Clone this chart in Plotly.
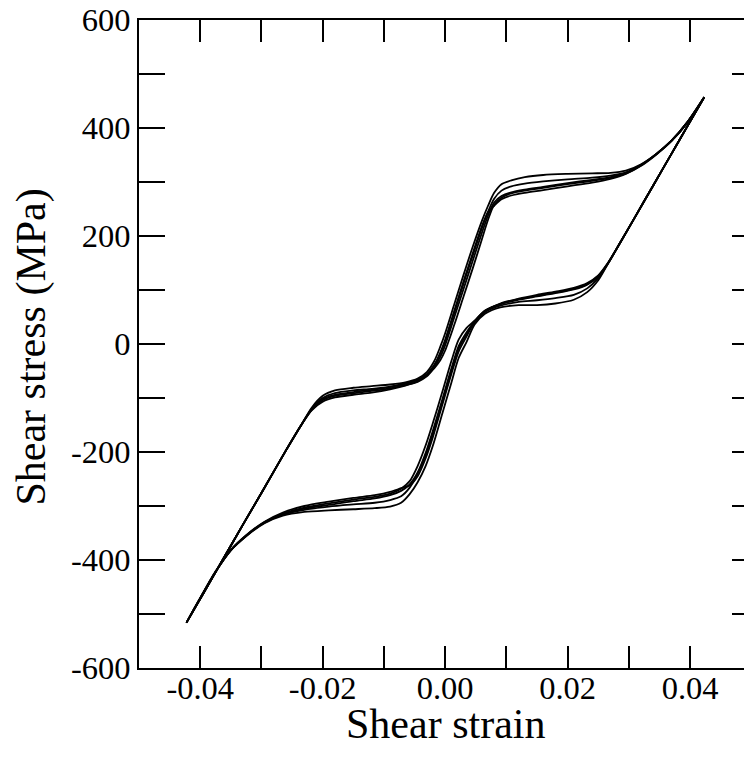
import plotly.graph_objects as go

# ---------------- data ----------------
strain_load = [-0.0422, -0.0395, -0.0367, -0.0330, -0.0297, -0.0260, -0.0235, -0.0218,
               -0.0200, -0.0180, -0.0150, -0.0120, -0.0090, -0.0065, -0.0045, -0.0030,
               -0.0018, -0.0008, 0.0000, 0.0015, 0.0030, 0.0045, 0.0060, 0.0070,
               0.0080, 0.0092, 0.0108, 0.0130, 0.0160, 0.0200, 0.0240, 0.0270,
               0.0295, 0.0320, 0.0345, 0.0370, 0.0395, 0.0423]

strain_unload = [0.0423, 0.0395, 0.0370, 0.0340, 0.0310, 0.0285, 0.0265, 0.0250,
                 0.0232, 0.0210, 0.0180, 0.0150, 0.0120, 0.0090, 0.0065, 0.0048,
                 0.0035, 0.0022, 0.0010, -0.0005, -0.0020, -0.0032, -0.0045, -0.0058,
                 -0.0072, -0.0090, -0.0115, -0.0150, -0.0190, -0.0230, -0.0265, -0.0295,
                 -0.0325, -0.0350, -0.0375, -0.0400, -0.0422]

stress_load_c1 = [-515, -462, -407, -334, -270, -197, -150, -118,
                  -96, -86, -81, -78, -75, -71, -64, -52,
                  -32, -5, 20, 74, 128, 180, 228, 256,
                  280, 296, 303, 309, 313, 315, 316, 317,
                  321, 333, 352, 377, 410, 457]
stress_unload_c1 = [457, 402, 353, 294, 235, 186, 147, 118,
                    96, 82, 75, 72, 72, 68, 56, 36,
                    4, -26, -72, -130, -188, -226, -256, -278,
                    -294, -301, -304, -306, -308, -311, -318, -332,
                    -356, -382, -422, -471, -515]

stress_load_c2 = [-515, -462, -407, -334, -270, -197, -150, -120,
                  -100, -91, -86, -83, -79, -73, -66, -56,
                  -39, -18, 5, 58, 112, 164, 215, 245,
                  269, 284, 292, 297, 301, 305, 308, 312,
                  318, 332, 352, 377, 410, 457]
stress_unload_c2 = [457, 402, 353, 294, 235, 186, 147, 122,
                    103, 91, 85, 81, 78, 71, 59, 40,
                    18, -8, -50, -108, -165, -206, -240, -266,
                    -282, -289, -294, -297, -301, -307, -316, -331,
                    -355, -382, -422, -471, -515]

stress_load_c3 = [-515, -462, -407, -334, -270, -197, -150, -122,
                  -104, -96, -91, -87, -82, -76, -70, -60,
                  -45, -30, -12, 36, 88, 140, 194, 230,
                  258, 271, 279, 284, 289, 296, 302, 308,
                  316, 331, 352, 377, 410, 457]
stress_unload_c3 = [457, 402, 353, 294, 235, 186, 148, 125,
                    110, 101, 94, 88, 82, 74, 62, 43,
                    30, 8, -32, -90, -146, -188, -226, -254,
                    -268, -277, -283, -288, -295, -303, -314, -330,
                    -355, -382, -422, -471, -515]

stress_load_c4 = [-515, -462, -407, -334, -270, -197, -150, -123,
                  -107, -99, -94, -90, -84, -77, -69, -58,
                  -41, -16, 8, 62, 116, 168, 218, 244,
                  256, 268, 275, 280, 285, 292, 299, 306,
                  315, 330, 351, 376, 409, 457]
stress_unload_c4 = [457, 402, 353, 294, 235, 186, 149, 127,
                    113, 104, 97, 91, 84, 75, 61, 41,
                    14, -14, -56, -114, -172, -212, -245, -262,
                    -267, -274, -280, -285, -292, -300, -312, -329,
                    -354, -381, -421, -470, -515]

stress_load_c5 = [-515, -462, -407, -334, -270, -197, -150, -121,
                  -102, -94, -89, -85, -80, -74, -67, -57,
                  -43, -24, -2, 50, 102, 154, 206, 238,
                  262, 274, 281, 286, 291, 298, 304, 309,
                  316, 331, 352, 377, 410, 457]
stress_unload_c5 = [457, 402, 353, 294, 235, 186, 148, 126,
                    111, 102, 95, 89, 83, 74, 61, 42,
                    22, -4, -46, -104, -160, -202, -238, -260,
                    -272, -280, -286, -291, -298, -305, -315, -330,
                    -355, -382, -422, -471, -515]

x_tick_vals = [-0.04, -0.03, -0.02, -0.01, 0.00, 0.01, 0.02, 0.03, 0.04]
x_tick_text = ["-0.04", "", "-0.02", "", "0.00", "", "0.02", "", "0.04"]
y_tick_vals = [-600, -500, -400, -300, -200, -100, 0, 100, 200, 300, 400, 500, 600]
y_tick_text = ["-600", "", "-400", "", "-200", "", "0", "", "200", "", "400", "", "600"]

x_label = "Shear strain"
y_label = "Shear stress (MPa)"

# ---------------- figure ----------------
cycles = [
    (stress_load_c1, stress_unload_c1),
    (stress_load_c2, stress_unload_c2),
    (stress_load_c3, stress_unload_c3),
    (stress_load_c4, stress_unload_c4),
    (stress_load_c5, stress_unload_c5),
]

fig = go.Figure()
for sl, su in cycles:
    fig.add_trace(go.Scatter(
        x=strain_load + strain_unload,
        y=sl + su,
        mode="lines",
        line=dict(color="black", width=1.8, shape="spline", smoothing=0.8),
        showlegend=False,
        hoverinfo="skip",
    ))

# empty trace to activate the right-hand tick axis
fig.add_trace(go.Scatter(x=[], y=[], yaxis="y2", showlegend=False, hoverinfo="skip"))

serif = "Liberation Serif, Times New Roman, serif"

fig.update_layout(
    width=744, height=762,
    margin=dict(l=139, r=0, t=20, b=94),
    paper_bgcolor="white", plot_bgcolor="white",
    font=dict(family=serif, color="black"),
    xaxis=dict(
        range=[-0.05, 0.0488], automargin=False,
        tickmode="array", tickvals=x_tick_vals, ticktext=x_tick_text,
        ticks="inside", ticklen=22, tickwidth=2, tickcolor="black",
        showline=True, linewidth=2, linecolor="black", mirror="ticks",
        showgrid=False, zeroline=False, ticklabelstandoff=-10,
        tickfont=dict(family=serif, size=32.5, color="black"),
    ),
    yaxis=dict(
        range=[-600, 600], automargin=False,
        tickmode="array", tickvals=y_tick_vals, ticktext=y_tick_text,
        ticks="inside", ticklen=26, tickwidth=2, tickcolor="black",
        showline=True, linewidth=2, linecolor="black", mirror=False,
        showgrid=False, zeroline=False,
        tickfont=dict(family=serif, size=32.5, color="black"),
    ),
    yaxis2=dict(
        range=[-600, 600], overlaying="y", side="right", anchor="x", automargin=False,
        tickmode="array", tickvals=y_tick_vals, ticktext=[""] * len(y_tick_vals),
        ticks="inside", ticklen=12, tickwidth=2, tickcolor="black",
        showline=False, showgrid=False, zeroline=False, showticklabels=False,
    ),
    annotations=[
        dict(text=x_label, xref="paper", yref="paper", x=0.506, y=-0.087,
             xanchor="center", yanchor="middle", showarrow=False,
             font=dict(family=serif, size=42, color="black")),
        dict(text=y_label, xref="paper", yref="paper", x=-0.178, y=0.495,
             xanchor="center", yanchor="middle", showarrow=False, textangle=-90,
             font=dict(family=serif, size=42, color="black")),
    ],
)

fig.write_html(
    "out.html",
    config={"displayModeBar": False},
    post_script="document.body.style.margin='0';document.body.style.overflow='hidden';",
)
